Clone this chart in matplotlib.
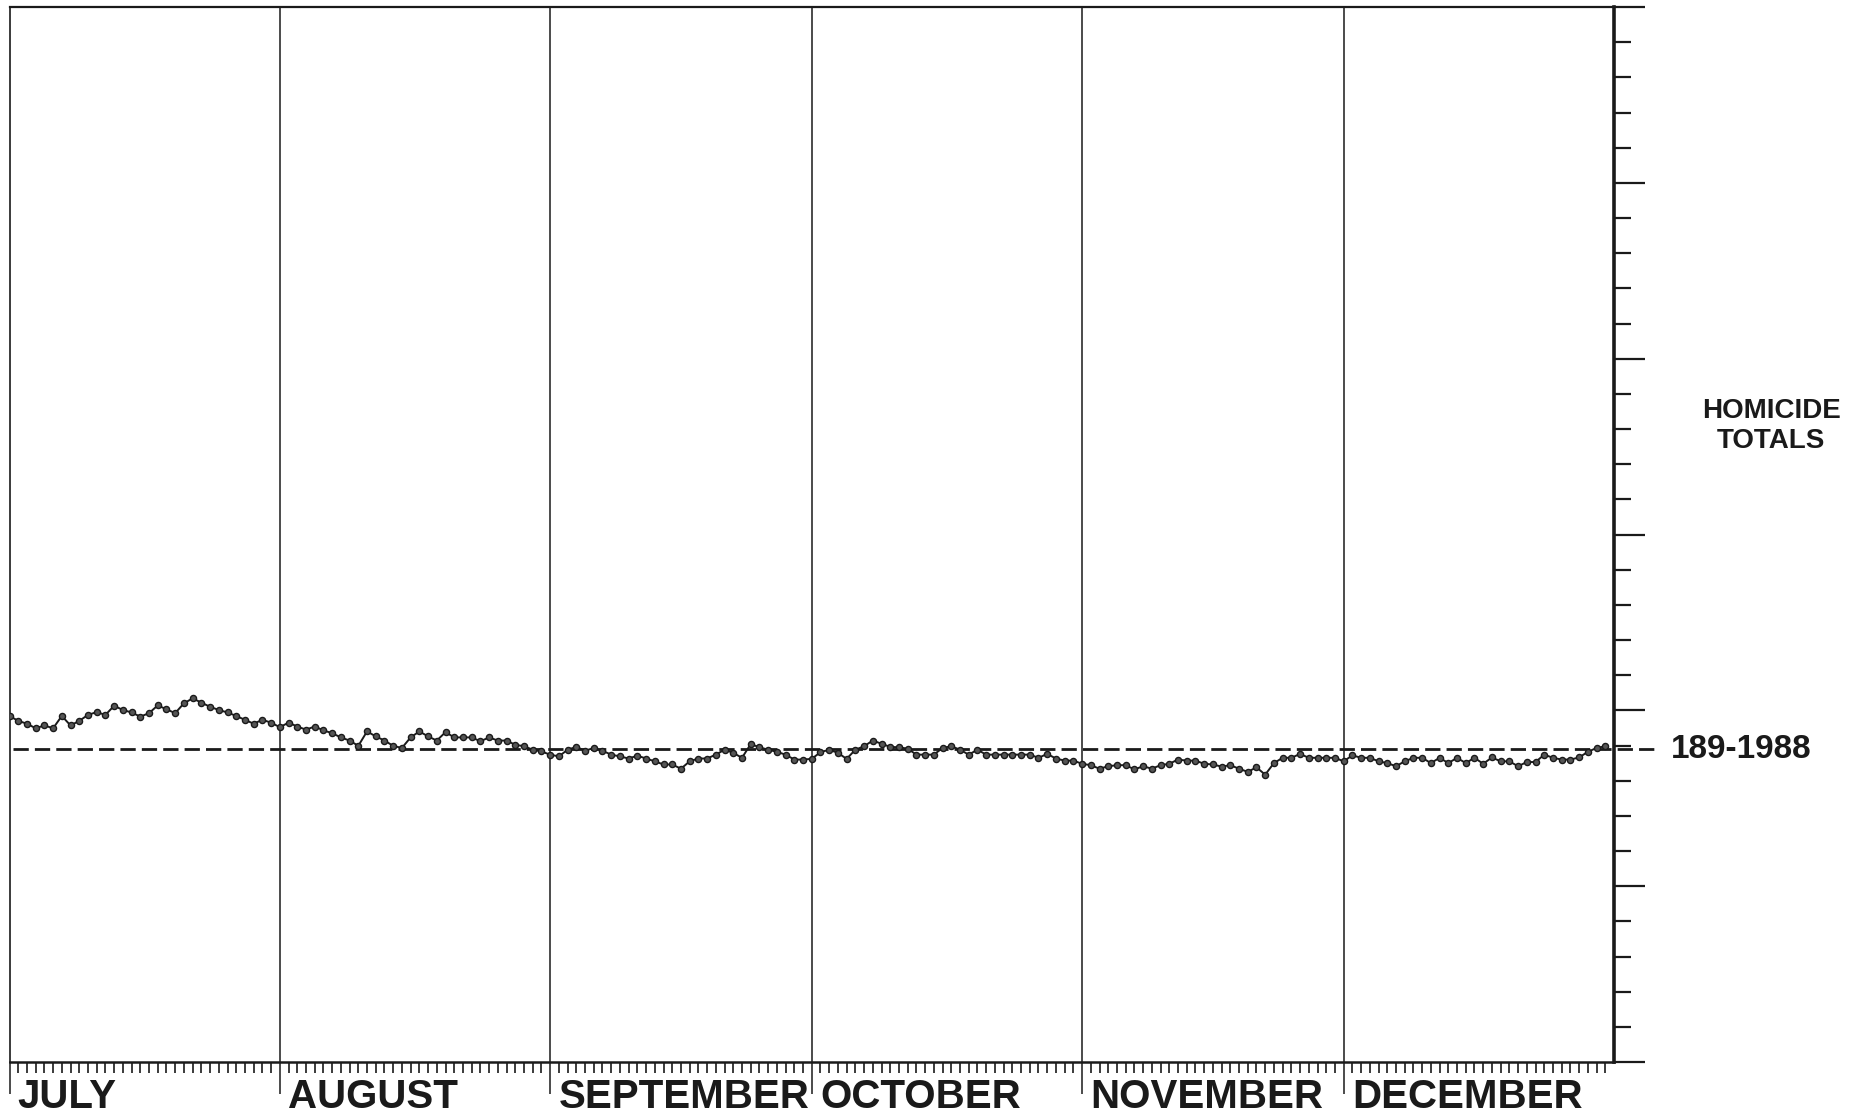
import numpy as np
import matplotlib
matplotlib.use('Agg')
import matplotlib.pyplot as plt
from matplotlib.ticker import MultipleLocator, FixedLocator

# daily homicide totals, July 1 - Dec 31
july = [198.4, 197.0, 196.2, 194.9, 195.7, 194.9, 198.4, 195.7, 197.0, 198.7,
        199.5, 198.7, 201.3, 200.1, 199.4, 198.2, 199.2, 201.4, 200.3, 199.2,
        202.0, 203.4, 202.2, 201.0, 200.1, 199.4, 198.4, 197.3, 196.2, 197.3,
        196.5]
august = [195.2, 196.5, 195.4, 194.5, 195.4, 194.3, 193.5, 192.3, 191.4, 189.9,
          194.0, 192.6, 191.4, 189.9, 189.3, 192.3, 194.0, 192.6, 191.4, 193.8,
          192.3, 192.3, 192.3, 191.2, 192.3, 191.4, 191.4, 190.2, 189.8, 188.8,
          188.3]
september = [187.4, 186.9, 188.8, 189.6, 188.5, 189.3, 188.5, 187.4, 186.9, 186.3,
             187.1, 186.3, 185.5, 184.6, 184.6, 183.4, 185.5, 186.3, 186.3, 187.4,
             188.8, 187.9, 186.5, 190.4, 189.5, 188.8, 188.2, 187.4, 186.0, 186.0]
october = [186.2, 188.1, 188.8, 187.9, 186.2, 188.8, 189.8, 191.4, 190.5, 189.6,
           189.5, 189.1, 187.4, 187.4, 187.4, 189.3, 189.8, 188.8, 187.4, 188.8,
           187.4, 187.4, 187.4, 187.4, 187.4, 187.4, 186.5, 187.6, 186.3, 185.7,
           185.7]
november = [184.8, 184.4, 183.4, 184.1, 184.4, 184.4, 183.2, 184.1, 183.4, 184.4,
            184.8, 186.0, 185.7, 185.7, 184.8, 184.6, 184.0, 184.4, 183.4, 182.5,
            183.8, 181.7, 185.0, 186.5, 186.5, 187.6, 186.5, 186.5, 186.5, 186.5]
december = [185.5, 187.2, 186.5, 186.5, 185.5, 185.0, 184.1, 185.5, 186.5, 186.5,
            185.0, 186.5, 185.0, 186.5, 185.0, 186.5, 184.8, 186.6, 185.5, 185.5,
            184.1, 185.3, 185.3, 187.4, 186.5, 186.0, 186.0, 186.6, 188.2, 189.3,
            189.8]

months = ['JULY', 'AUGUST', 'SEPTEMBER', 'OCTOBER', 'NOVEMBER', 'DECEMBER']
month_days = [31, 31, 30, 31, 30, 31]
ref_value = 189
ref_label = '189-1988'

ink = '#1a1a1a'
plt.rcParams['font.family'] = ['Liberation Sans', 'DejaVu Sans']

values = np.array(july + august + september + october + november + december)
days = np.arange(len(values))
starts = np.concatenate([[0], np.cumsum(month_days)])

fig = plt.figure(figsize=(18.61, 11.13), dpi=100)
ax = fig.add_axes([9.5 / 1861, 51 / 1113, (1614 - 9.5) / 1861, (1062 - 7) / 1113])

# data line
ax.plot(days, values, color=ink, lw=1.4, marker='o', ms=4.4,
        mfc='#555555', mec=ink, mew=1.0, zorder=3)
# 1988 reference line
ax.plot([0.4, 189.0], [ref_value, ref_value], color=ink, lw=2.0,
        ls=(0, (5.5, 2.2)), clip_on=False, zorder=2)

# month separators
for s in starts[1:-1]:
    ax.axvline(s, color=ink, lw=1.1, zorder=1)

ax.set_xlim(0, starts[-1])
ax.set_ylim(100, 400)

# ticks
ax.xaxis.set_major_locator(FixedLocator(starts[:-1]))
ax.xaxis.set_minor_locator(FixedLocator(days))
ax.tick_params(axis='x', which='major', direction='out', length=23, width=1.1,
               color=ink, labelbottom=False)
ax.tick_params(axis='x', which='minor', direction='out', length=8, width=1.2,
               color=ink)
ax.yaxis.tick_right()
ax.yaxis.set_major_locator(MultipleLocator(50))
ax.yaxis.set_minor_locator(MultipleLocator(10))
ax.tick_params(axis='y', which='major', direction='out', length=22, width=1.6,
               color=ink, labelright=False, left=False)
ax.tick_params(axis='y', which='minor', direction='out', length=12, width=1.6,
               color=ink, left=False)

# spines
ax.spines['left'].set_linewidth(1.2)
ax.spines['top'].set_linewidth(1.6)
ax.spines['bottom'].set_linewidth(1.8)
ax.spines['right'].set_linewidth(2.6)
for sp in ax.spines.values():
    sp.set_color(ink)

# month labels
for name, s in zip(months, starts[:-1]):
    ax.annotate(name, xy=(s, 0), xycoords=('data', 'axes fraction'),
                xytext=(6, -33), textcoords='offset points',
                ha='left', va='baseline', fontsize=29, fontweight='bold',
                color=ink)

fig.text(1771 / 1861, 1 - 426 / 1113, 'HOMICIDE\nTOTALS', ha='center',
         va='center', fontsize=20, fontweight='bold', color=ink,
         linespacing=1.2)
fig.text(1671 / 1861, 1 - 749 / 1113, ref_label, ha='left', va='center',
         fontsize=24, fontweight='bold', color=ink)

plt.savefig('out.png', dpi=100, facecolor='white')
